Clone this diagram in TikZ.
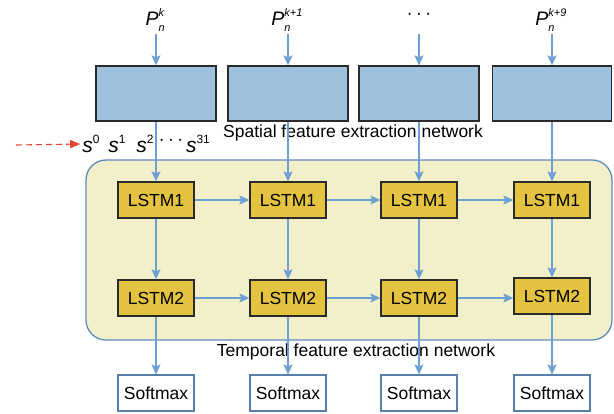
\documentclass[tikz,border=0pt]{standalone}
\usepackage{fontspec}
\setmainfont{Liberation Sans}
\usetikzlibrary{arrows.meta}
\definecolor{linec}{HTML}{6E9FD3}
\definecolor{boxblue}{HTML}{A0C1DE}
\definecolor{lstmy}{HTML}{E3C33F}
\definecolor{bgy}{HTML}{F2F0CA}
\definecolor{bgedge}{HTML}{5F8BBB}
\definecolor{edgec}{HTML}{2B2B2B}
\definecolor{redc}{HTML}{E8412E}
\newcommand\PSS[3]{\textit{#1}\rlap{\raisebox{.5em}{\fontsize{11}{11}\selectfont\itshape #2}}\raisebox{-.3em}{\fontsize{11}{11}\selectfont\itshape #3}\phantom{\fontsize{11}{11}\selectfont #2}}
\newcommand\SSup[1]{\textit{s}\raisebox{.42em}{\fontsize{12}{12}\selectfont #1}}
\begin{document}
\begin{tikzpicture}[x=1pt,y=-1pt,
  every node/.style={font=\fontsize{17.5}{17.5}\selectfont, inner sep=0pt},
  arr/.style={draw=linec, line width=1.4pt, -{Stealth[length=10pt,width=9pt,inset=2pt]}},
  cnnbox/.style={draw=edgec, line width=1.3pt, fill=boxblue, minimum width=120pt, minimum height=55pt},
  lstmbox/.style={draw=edgec, line width=1.3pt, fill=lstmy, minimum width=76pt, minimum height=36pt},
  smbox/.style={draw=linec!80!black, line width=1.1pt, fill=white, minimum width=76pt, minimum height=36pt},
  lab/.style={font=\fontsize{19.5}{19.5}\selectfont},
  slab/.style={font=\fontsize{21}{21}\selectfont}]
\useasboundingbox (0,0) rectangle (614,413);
% background of temporal network
\node[draw=bgedge, line width=1.3pt, fill=bgy, rounded corners=20pt, minimum width=526pt, minimum height=180pt] (bg) at (349,250) {};
% input labels
\node[lab] (p1) at (158,20) {\PSS{P}{k}{n}};
\node[lab] (p2) at (290,20) {\PSS{P}{k+1}{n}};
\node[lab] (p3) at (419,15) {$\cdots$};
\node[lab] (p4) at (554,20) {\PSS{P}{k+9}{n}};
% spatial boxes
\node[cnnbox] (b1) at (156,93.5) {};
\node[cnnbox] (b2) at (288,93.5) {};
\node[cnnbox] (b3) at (419,93.5) {};
\node[cnnbox, minimum width=119pt] (b4) at (552,93.5) {};
\node (spt) at (353,133) {Spatial feature extraction network};
% state sequence
\coordinate (rs) at (16,145);
\node[slab] (s0) at (91,144) {\SSup{0}};
\node[slab] (s1) at (117,144) {\SSup{1}};
\node[slab] (s2) at (145,144) {\SSup{2}};
\node[lab] (sd) at (171,141) {$\cdots$};
\node[slab] (s31) at (198,144) {\SSup{31}};
\draw[redc, line width=1.1pt, dashed, dash pattern=on 6pt off 4pt, -{Triangle[length=10pt,width=8pt]}] (rs) -- ([xshift=-2pt]s0.west);
% LSTM layers
\node[lstmbox] (a1) at (156,200) {LSTM1};
\node[lstmbox] (a2) at (288,200) {LSTM1};
\node[lstmbox] (a3) at (419,200) {LSTM1};
\node[lstmbox] (a4) at (552,200) {LSTM1};
\node[lstmbox] (c1) at (156,298) {LSTM2};
\node[lstmbox] (c2) at (288,298) {LSTM2};
\node[lstmbox] (c3) at (419,298) {LSTM2};
\node[lstmbox] (c4) at (552,296) {LSTM2};
\node (tmp) at (356,352) {Temporal feature extraction network};
% softmax
\node[smbox] (m1) at (156,393) {Softmax};
\node[smbox] (m2) at (288,393) {Softmax};
\node[smbox] (m3) at (419,393) {Softmax};
\node[smbox] (m4) at (552,393) {Softmax};
% arrows
\foreach \i in {1,2,3,4}{
  \draw[arr] (b\i.north |- 0,34) -- (b\i.north);
  \draw[arr] (b\i) -- (a\i);
  \draw[arr] (a\i) -- (c\i);
  \draw[arr] (c\i) -- (m\i);
}
\foreach \i/\j in {1/2,2/3,3/4}{
  \draw[arr] (a\i) -- (a\j);
}
\foreach \i/\j in {1/2,2/3}{
  \draw[arr] (c\i) -- (c\j);
}
\draw[arr] (c3.east) -- (c3.east -| c4.west);
\end{tikzpicture}
\end{document}
